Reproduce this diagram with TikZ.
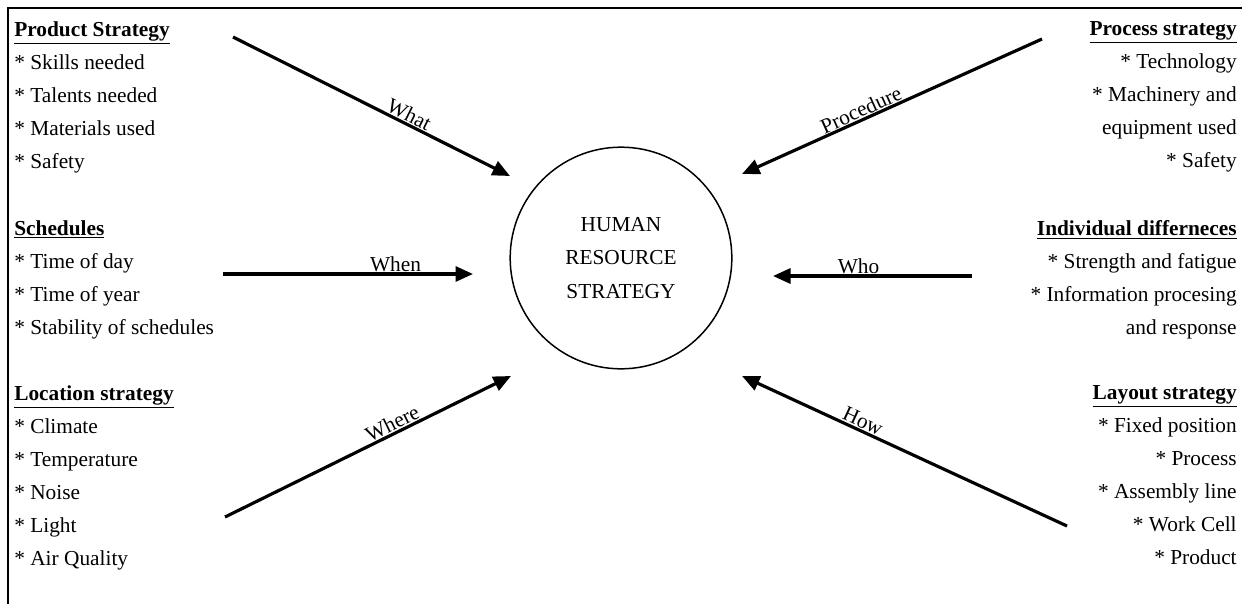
\documentclass[tikz,border=0pt]{standalone}
\usepackage{fontspec}
\setmainfont{Liberation Serif}
\usetikzlibrary{arrows.meta}
\tikzset{every node/.style={font=\fontsize{12.8}{19.86}\selectfont}}

\begin{document}
\begin{tikzpicture}[x=0.6pt,y=-0.6pt,>={Triangle[length=10.5pt,width=9pt]},
  leftlist/.style={inner sep=0pt,align=left,anchor=north west},
  rightlist/.style={inner sep=0pt,align=right,anchor=north east},
  link/.style={->,line width=1.9pt},
  tag/.style={sloped,above,inner sep=0.5pt}]
\useasboundingbox (0,0) rectangle (1242,604);
\draw[line width=1.2pt] (8,604) -- (8,8) -- (1242,8);

\node[circle,draw,align=center,line width=0.9pt,minimum size=133pt] (hrs) at (621,258) {HUMAN\\RESOURCE\\STRATEGY};

\node[leftlist] (prod) at (14,21) {\underline{\textbf{Product Strategy}}\\* Skills needed\\* Talents needed\\* Materials used\\* Safety};
\node[leftlist] (sched) at (14,220) {\underline{\textbf{Schedules}}\\* Time of day\\* Time of year\\* Stability of schedules};
\node[leftlist] (loc) at (14,385) {\underline{\textbf{Location strategy}}\\* Climate\\* Temperature\\* Noise\\* Light\\* Air Quality};

\node[rightlist] (proc) at (1237,21) {\underline{\textbf{Process strategy}}\\* Technology\\* Machinery and\\equipment used\\* Safety};
\node[rightlist] (indiv) at (1237,220) {\underline{\textbf{Individual differneces}}\\* Strength and fatigue\\* Information procesing\\and response};
\node[rightlist] (layout) at (1237,385) {\underline{\textbf{Layout strategy}}\\* Fixed position\\* Process\\* Assembly line\\* Work Cell\\* Product};

\coordinate (whatS) at (233,37);   \coordinate (whatE) at (510,176);
\coordinate (whenS) at (223,274);  \coordinate (whenE) at (473,274);
\coordinate (whereS) at (225,517); \coordinate (whereE) at (511,376);
\coordinate (procS) at (1042,39);  \coordinate (procE) at (742,174);
\coordinate (whoS) at (972,276);   \coordinate (whoE) at (773,276);
\coordinate (howS) at (1067,526);  \coordinate (howE) at (742,376);

\draw[link] (whatS) -- node[tag,pos=.62] (what) {What} (whatE);
\draw[link] (whenS) -- node[tag,pos=.69] (when) {When} (whenE);
\draw[link] (whereS) -- node[tag,pos=.6] (where) {Where} (whereE);
\draw[link] (procS) -- node[tag,pos=.59] (procedure) {Procedure} (procE);
\draw[link] (whoS) -- node[tag,pos=.57] (who) {Who} (whoE);
\draw[link] (howS) -- node[tag,pos=.64] (how) {How} (howE);

\end{tikzpicture}
\end{document}
